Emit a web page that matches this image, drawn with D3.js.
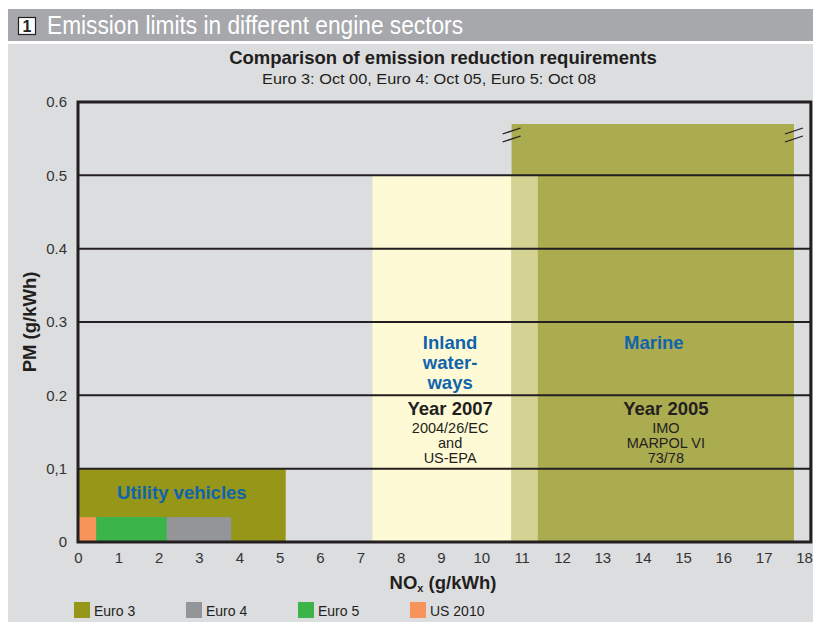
<!DOCTYPE html>
<html>
<head>
<meta charset="utf-8">
<script src="https://cdn.jsdelivr.net/npm/d3@7"></script>
<style>
  body { margin: 0; background: #fff; }
  text { font-family: "Liberation Sans", Arial, sans-serif; }
</style>
</head>
<body>
<div id="chart"></div>
<script>
// NOx / PM limits, boxes start at the origin
const euroNames = ["Euro 3", "Euro 4", "Euro 5", "US 2010"];
const euroNox = [5.15, 3.8, 2.2, 0.45];
const euroPm = [0.1, 0.034, 0.034, 0.034];
const euroColors = ["#969619", "#949598", "#3bb54a", "#f7945a"];

const sectorNames = ["Inland waterways", "Marine"];
const sectorNoxFrom = [7.3, 10.75];
const sectorNoxTo = [11.4, 17.75];
const sectorPm = [0.5, 0.57];
const sectorColors = ["#fefad6", "#abab4f"];
const overlapColor = "#d5d393";

const xTicks = d3.range(0, 19);
const yTicks = [0, 0.1, 0.2, 0.3, 0.4, 0.5, 0.6];
const yTickLabels = ["0", "0,1", "0.2", "0.3", "0.4", "0.5", "0.6"];
const xFrameMax = 18.17;

const W = 813, H = 622;
const svg = d3.select("#chart").append("svg")
  .attr("width", W).attr("height", H);

// header bar + panel
svg.append("rect").attr("x", 8).attr("y", 9).attr("width", W - 8).attr("height", 32)
  .attr("fill", "#a6a8ab");
svg.append("rect").attr("x", 8).attr("y", 44).attr("width", W - 8).attr("height", H - 44)
  .attr("fill", "#dcdddf");
svg.append("rect").attr("x", 18.5).attr("y", 17.5).attr("width", 17).attr("height", 17)
  .attr("fill", "#fff").attr("stroke", "#231f20").attr("stroke-width", 1.2);
svg.append("text").attr("x", 27).attr("y", 32).attr("text-anchor", "middle")
  .attr("font-size", 16).attr("font-weight", "bold").attr("fill", "#231f20").text("1");
svg.append("text").attr("x", 47).attr("y", 34)
  .attr("font-size", 26).attr("fill", "#fff")
  .attr("textLength", 416).attr("lengthAdjust", "spacingAndGlyphs")
  .text("Emission limits in different engine sectors");

svg.append("text").attr("x", 443).attr("y", 64).attr("text-anchor", "middle")
  .attr("font-size", 18.5).attr("font-weight", "bold").attr("fill", "#231f20")
  .text("Comparison of emission reduction requirements");
svg.append("text").attr("x", 429).attr("y", 84).attr("text-anchor", "middle")
  .attr("font-size", 14).attr("fill", "#231f20")
  .attr("textLength", 334).attr("lengthAdjust", "spacingAndGlyphs")
  .text("Euro 3: Oct 00, Euro 4: Oct 05, Euro 5: Oct 08");

const x = d3.scaleLinear().domain([0, 18]).range([78, 804]);
const y = d3.scaleLinear().domain([0, 0.6]).range([542, 102]);

const plot = svg.append("g");

// sector boxes
plot.selectAll("rect.sector").data(sectorNames).join("rect")
  .attr("class", "sector")
  .attr("x", (d, i) => x(sectorNoxFrom[i]))
  .attr("y", (d, i) => y(sectorPm[i]))
  .attr("width", (d, i) => x(sectorNoxTo[i]) - x(sectorNoxFrom[i]))
  .attr("height", (d, i) => y(0) - y(sectorPm[i]))
  .attr("fill", (d, i) => sectorColors[i]);

// where inland and marine overlap
const ovFrom = Math.max(sectorNoxFrom[0], sectorNoxFrom[1]);
const ovTo = Math.min(sectorNoxTo[0], sectorNoxTo[1]);
const ovPm = Math.min(sectorPm[0], sectorPm[1]);
plot.append("rect")
  .attr("x", x(ovFrom)).attr("y", y(ovPm))
  .attr("width", x(ovTo) - x(ovFrom)).attr("height", y(0) - y(ovPm))
  .attr("fill", overlapColor);

// euro boxes, biggest first
plot.selectAll("rect.euro").data(euroNames).join("rect")
  .attr("class", "euro")
  .attr("x", x(0))
  .attr("y", (d, i) => y(euroPm[i]))
  .attr("width", (d, i) => x(euroNox[i]) - x(0))
  .attr("height", (d, i) => y(0) - y(euroPm[i]))
  .attr("fill", (d, i) => euroColors[i]);

// break marks on top of marine box
const mTop = y(sectorPm[1]);
[x(sectorNoxFrom[1]), x(sectorNoxTo[1])].forEach(cx => {
  [-4, 4].forEach(off => {
    plot.append("line")
      .attr("x1", cx - 9).attr("y1", mTop + 14 + off)
      .attr("x2", cx + 9).attr("y2", mTop + 8 + off)
      .attr("stroke", "#231f20").attr("stroke-width", 1.3);
  });
});

// grid lines over the fills
plot.selectAll("line.grid").data(yTicks.slice(1, -1)).join("line")
  .attr("class", "grid")
  .attr("x1", x(0)).attr("x2", x(xFrameMax))
  .attr("y1", d => y(d)).attr("y2", d => y(d))
  .attr("stroke", "#231f20").attr("stroke-width", 2);

// frame
plot.append("rect")
  .attr("x", x(0)).attr("y", y(0.6))
  .attr("width", x(xFrameMax) - x(0)).attr("height", y(0) - y(0.6))
  .attr("fill", "none").attr("stroke", "#231f20").attr("stroke-width", 3);

// axes
const xAxis = svg.append("g").attr("transform", `translate(0,${y(0)})`)
  .call(d3.axisBottom(x).tickValues(xTicks).tickSize(0).tickPadding(10).tickFormat(d3.format("d")));
xAxis.select(".domain").remove();
xAxis.selectAll("text").attr("font-size", 15).attr("fill", "#333")
  .style("font-family", "'Liberation Sans', Arial, sans-serif");

const yAxis = svg.append("g").attr("transform", `translate(${x(0)},0)`)
  .call(d3.axisLeft(y).tickValues(yTicks).tickSize(0).tickPadding(11)
    .tickFormat((d, i) => yTickLabels[i]));
yAxis.select(".domain").remove();
yAxis.selectAll("text").attr("font-size", 15).attr("fill", "#333")
  .style("font-family", "'Liberation Sans', Arial, sans-serif");

// axis titles
const xt = svg.append("text").attr("x", 443).attr("y", 589).attr("text-anchor", "middle")
  .attr("font-size", 18.5).attr("font-weight", "bold").attr("fill", "#231f20");
xt.append("tspan").text("NO");
xt.append("tspan").attr("font-size", 11).attr("dy", 3).text("x");
xt.append("tspan").attr("dy", -3).text(" (g/kWh)");

svg.append("text").attr("transform", `translate(36,${y(0.3)}) rotate(-90)`)
  .attr("text-anchor", "middle").attr("font-size", 18.5).attr("font-weight", "bold")
  .attr("fill", "#231f20").text("PM (g/kWh)");

// labels inside boxes
const blue = "#0f64ad";
svg.append("text").attr("x", (x(0) + x(euroNox[0])) / 2).attr("y", y(0.058))
  .attr("text-anchor", "middle").attr("font-size", 18.5).attr("font-weight", "bold")
  .attr("fill", blue).text("Utility vehicles");

const inlandCx = (x(sectorNoxFrom[0]) + x(sectorNoxTo[0])) / 2 - 5;
const marineCx = (x(ovTo) + x(sectorNoxTo[1])) / 2;

["Inland", "water-", "ways"].forEach((t, i) => {
  svg.append("text").attr("x", inlandCx).attr("y", 349 + i * 20)
    .attr("text-anchor", "middle").attr("font-size", 18.5).attr("font-weight", "bold")
    .attr("fill", blue).text(t);
});
svg.append("text").attr("x", marineCx - 12).attr("y", 349)
  .attr("text-anchor", "middle").attr("font-size", 18.5).attr("font-weight", "bold")
  .attr("fill", blue).text("Marine");

function yearBlock(cx, year, lines) {
  svg.append("text").attr("x", cx).attr("y", 415)
    .attr("text-anchor", "middle").attr("font-size", 18.5).attr("font-weight", "bold")
    .attr("fill", "#231f20").text(year);
  lines.forEach((t, i) => {
    svg.append("text").attr("x", cx).attr("y", 433 + i * 15)
      .attr("text-anchor", "middle").attr("font-size", 14.5)
      .attr("fill", "#231f20").text(t);
  });
}
yearBlock(inlandCx, "Year 2007", ["2004/26/EC", "and", "US-EPA"]);
yearBlock(marineCx, "Year 2005", ["IMO", "MARPOL VI", "73/78"]);

// legend
const lg = svg.selectAll("g.leg").data(euroNames).join("g")
  .attr("class", "leg")
  .attr("transform", (d, i) => `translate(${74 + i * 112},602)`);
lg.append("rect").attr("width", 16).attr("height", 16)
  .attr("fill", (d, i) => euroColors[i]);
lg.append("text").attr("x", 20).attr("y", 14).attr("font-size", 14)
  .attr("fill", "#231f20").text(d => d);
</script>
</body>
</html>
